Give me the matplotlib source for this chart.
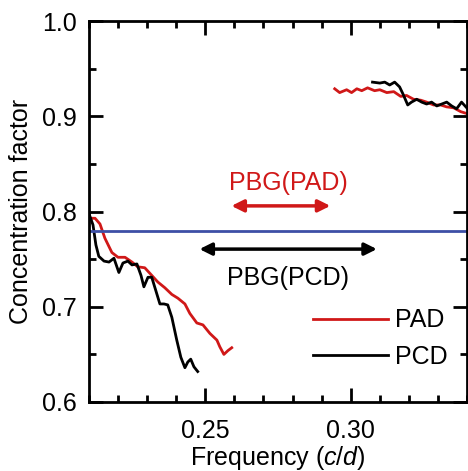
import numpy as np
import matplotlib
matplotlib.use('Agg')
import matplotlib.pyplot as plt
from matplotlib.ticker import MultipleLocator

plt.rcParams['font.family'] = ['Liberation Sans', 'DejaVu Sans']
plt.rcParams['mathtext.fontset'] = 'custom'
plt.rcParams['mathtext.rm'] = 'Liberation Sans'
plt.rcParams['mathtext.it'] = 'Liberation Sans:italic'

# PAD (red), lower branch
pad_low_x = [0.2100, 0.2121, 0.2138, 0.2155, 0.2179, 0.2200, 0.2224, 0.2248, 0.2268,
             0.2292, 0.2316, 0.2337, 0.2361, 0.2385, 0.2406, 0.2430, 0.2447, 0.2471,
             0.2492, 0.2516, 0.2540, 0.2550, 0.2564, 0.2578, 0.2591]
pad_low_y = [0.793, 0.793, 0.787, 0.772, 0.757, 0.752, 0.752, 0.747, 0.742,
             0.741, 0.733, 0.726, 0.720, 0.713, 0.709, 0.703, 0.693, 0.683,
             0.681, 0.672, 0.665, 0.658, 0.650, 0.654, 0.657]

# PAD (red), upper branch
pad_high_x = [0.2945, 0.2962, 0.2986, 0.3003, 0.3021, 0.3038, 0.3058, 0.3082, 0.3100,
              0.3124, 0.3148, 0.3172, 0.3192, 0.3216, 0.3241, 0.3261, 0.3285, 0.3309,
              0.3330, 0.3354, 0.3378, 0.3399]
pad_high_y = [0.929, 0.925, 0.928, 0.925, 0.929, 0.927, 0.930, 0.927, 0.928,
              0.925, 0.926, 0.921, 0.922, 0.918, 0.917, 0.915, 0.912, 0.912,
              0.910, 0.909, 0.905, 0.903]

# PCD (black), lower branch
pcd_low_x = [0.2100, 0.2114, 0.2124, 0.2134, 0.2152, 0.2169, 0.2186, 0.2203, 0.2217,
             0.2234, 0.2248, 0.2265, 0.2279, 0.2289, 0.2303, 0.2316, 0.2330, 0.2344,
             0.2358, 0.2371, 0.2385, 0.2402, 0.2416, 0.2430, 0.2440, 0.2450, 0.2461,
             0.2474]
pcd_low_y = [0.798, 0.786, 0.765, 0.753, 0.748, 0.747, 0.751, 0.736, 0.746,
             0.748, 0.744, 0.745, 0.733, 0.721, 0.731, 0.731, 0.717, 0.703,
             0.703, 0.702, 0.689, 0.665, 0.647, 0.636, 0.642, 0.645, 0.637,
             0.632]

# PCD (black), upper branch
pcd_high_x = [0.3075, 0.3100, 0.3117, 0.3134, 0.3151, 0.3168, 0.3179, 0.3196, 0.3209,
              0.3227, 0.3244, 0.3261, 0.3278, 0.3296, 0.3313, 0.3330, 0.3347, 0.3364,
              0.3381, 0.3399]
pcd_high_y = [0.936, 0.935, 0.936, 0.933, 0.936, 0.931, 0.924, 0.912, 0.915,
              0.918, 0.915, 0.913, 0.915, 0.911, 0.913, 0.915, 0.911, 0.908,
              0.915, 0.909]

reference_level = 0.78
pbg_pad = (0.259, 0.293)
pbg_pcd = (0.248, 0.309)

red = '#d01818'
blue = '#3d4fa6'

fig = plt.figure(figsize=(4.68, 4.71), dpi=100)
ax = fig.add_axes([0.190, 0.1465, 0.808, 0.8085])

ax.plot(pad_low_x, pad_low_y, color=red, lw=2, label='PAD')
ax.plot(pad_high_x, pad_high_y, color=red, lw=2)
ax.plot(pcd_low_x, pcd_low_y, color='k', lw=2, label='PCD')
ax.plot(pcd_high_x, pcd_high_y, color='k', lw=2)
ax.axhline(reference_level, color=blue, lw=2)

ax.annotate('', xy=(pbg_pad[0], 0.806), xytext=(pbg_pad[1], 0.806),
            arrowprops=dict(arrowstyle='<|-|>', color=red, lw=2.5,
                            mutation_scale=18, shrinkA=0, shrinkB=0))
ax.annotate('', xy=(pbg_pcd[0], 0.7606), xytext=(pbg_pcd[1], 0.7606),
            arrowprops=dict(arrowstyle='<|-|>', color='k', lw=2.5,
                            mutation_scale=18, shrinkA=0, shrinkB=0))
ax.text(0.2787, 0.8226, 'PBG(PAD)', color=red, fontsize=18, ha='center', va='baseline')
ax.text(0.2785, 0.7228, 'PBG(PCD)', color='k', fontsize=18, ha='center', va='baseline')

ax.set_xlim(0.21, 0.34)
ax.set_ylim(0.6, 1.0)
ax.xaxis.set_major_locator(MultipleLocator(0.05))
ax.xaxis.set_minor_locator(MultipleLocator(0.01))
ax.yaxis.set_major_locator(MultipleLocator(0.1))
ax.yaxis.set_minor_locator(MultipleLocator(0.05))
ax.set_xticks([0.25, 0.30], ['0.25', '0.30'])
ax.set_yticks([0.6, 0.7, 0.8, 0.9, 1.0], ['0.6', '0.7', '0.8', '0.9', '1.0'])
ax.tick_params(which='both', direction='in', top=True, right=True, labelsize=18, width=2)
ax.tick_params(which='major', length=10)
ax.tick_params(axis='x', which='major', pad=12)
ax.tick_params(axis='y', which='major', pad=9)
ax.tick_params(which='minor', length=5)
for s in ax.spines.values():
    s.set_linewidth(2)

ax.set_xlabel('Frequency ($c$/$d$)', fontsize=18, labelpad=1)
ax.set_ylabel('Concentration factor', fontsize=18, labelpad=6)

ax.legend(loc='lower right', bbox_to_anchor=(0.982, 0.054), frameon=False, fontsize=18,
          handlelength=3.0, handletextpad=0.3, labelspacing=0.5, borderpad=0)

fig.savefig('out.png', dpi=100)
